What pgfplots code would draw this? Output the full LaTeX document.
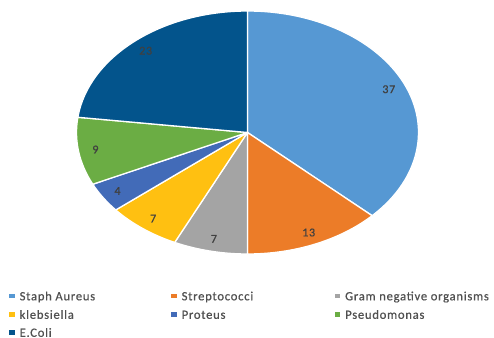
\documentclass[border=0pt]{standalone}
\usepackage{fontspec}
\setmainfont{Carlito}
\usepackage{pgfplots}
\usepackage{pgfplotstable}
\usetikzlibrary{calc}
\pgfplotsset{compat=1.18}
\definecolor{cA}{RGB}{86,152,211}
\definecolor{cB}{RGB}{236,124,40}
\definecolor{cC}{RGB}{164,164,164}
\definecolor{cD}{RGB}{255,192,17}
\definecolor{cE}{RGB}{66,107,184}
\definecolor{cF}{RGB}{107,173,68}
\definecolor{cG}{RGB}{3,84,140}
\definecolor{lbl}{RGB}{64,64,64}
\definecolor{leg}{RGB}{80,80,80}
\pgfplotstableread{
name value color
StaphAureus 37 cA
Streptococci 13 cB
GramNegative 7 cC
Klebsiella 7 cD
Proteus 4 cE
Pseudomonas 9 cF
EColi 23 cG
}\piedata
\begin{document}
\begin{tikzpicture}
\begin{axis}[
  scale only axis, width=494bp, height=338bp,
  xmin=0, xmax=494, ymin=0, ymax=338, y dir=reverse,
  hide axis, clip=false,
]
\path (rel axis cs:0,0) rectangle (rel axis cs:1,1);
\pgfplotsextra{
  \xdef\startang{90}
  \foreach \i in {0,...,6}{
    \pgfplotstablegetelem{\i}{value}\of\piedata \let\val\pgfplotsretval
    \pgfplotstablegetelem{\i}{color}\of\piedata \let\col\pgfplotsretval
    \pgfmathsetmacro\endang{\startang-3.6*\val}
    \pgfmathsetmacro\midang{(\startang+\endang)/2}
    \fill[\col, draw=white, line width=1.3bp, line join=round]
      (axis cs:247.5,132.5) -- ++(\startang:171bp and 121.5bp)
      arc[start angle=\startang, end angle=\endang, x radius=171bp, y radius=121.5bp] -- cycle;
    \path (axis cs:247.5,132.5) ++(\midang:154bp and 109bp)
      node[text=lbl, font=\fontsize{12bp}{12bp}\selectfont\addfontfeatures{LetterSpace=6,FakeBold=0.6}] {\val};
    \xdef\startang{\endang}
  }
}
% legend
\pgfplotsextra{
  \foreach \x/\y/\c/\t in {
    12/296/cA/Staph Aureus, 174/296/cB/Streptococci, 337.5/296/cC/Gram negative organisms,
    12/314.5/cD/klebsiella, 174/314.5/cE/Proteus, 337.5/314.5/cF/Pseudomonas,
    12/332.5/cG/E.Coli}{
    \fill[\c] ($(axis cs:\x,\y)+(-2.7bp,-2.2bp)$) rectangle ++(5.4bp,4.4bp);
    \node[anchor=base west, inner sep=0pt, text=leg, font=\fontsize{12.6bp}{13bp}\selectfont\addfontfeatures{LetterSpace=6,FakeBold=0.6}]
      at ($(axis cs:\x,\y)+(7.5bp,-4.3bp)$) {\t};
  }
}
\end{axis}
\end{tikzpicture}
\end{document}
